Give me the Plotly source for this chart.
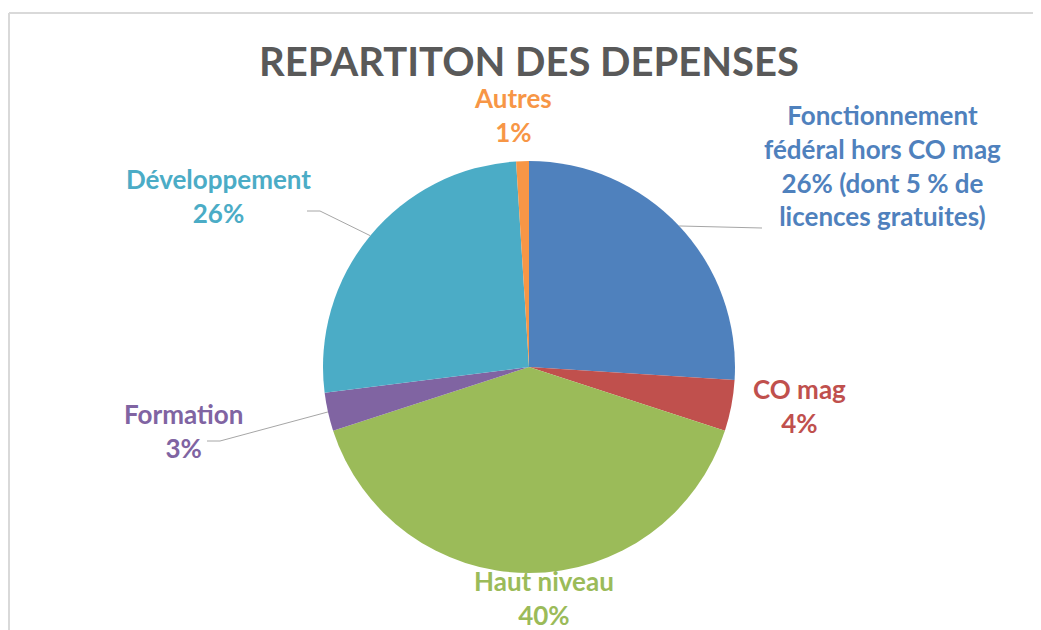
import math
import plotly.graph_objects as go

# ---- data ----
categories = ["Fonctionnement fédéral hors CO mag", "CO mag", "Haut niveau",
              "Formation", "Développement", "Autres"]
values = [26, 4, 40, 3, 26, 1]
label_texts = [
    "Fonctionnement<br>fédéral hors CO mag<br>26% (dont 5 % de<br>licences gratuites)",
    "CO mag<br>4%",
    "Haut niveau<br>40%",
    "Formation<br>3%",
    "Développement<br>26%",
    "Autres<br>1%",
]
colors = ["#4F81BD", "#C0504D", "#9BBB59", "#8064A2", "#4BACC6", "#F79646"]
title_text = "REPARTITON DES DEPENSES"

# ---- layout constants (page pixels) ----
OFF = 8                      # default page margin around the plot div
W, H = 1041 - OFF, 630 - OFF  # figure size
CX, CY, R = 529, 367, 206
label_pos = [(882, 165), (799, 406), (544, 598), (183, 431), (218, 196), (513, 115)]
leader = {
    0: [(762, 228)],
    3: [(220, 441), (207, 441)],
    4: [(320, 211), (307, 211)],
}

def px(x):
    return (x - OFF) / W

def py(y):
    return 1 - (y - OFF) / H

fig = go.Figure()
fig.add_trace(go.Pie(
    labels=categories,
    values=values,
    sort=False,
    direction="clockwise",
    rotation=0,
    marker=dict(colors=colors, line=dict(width=0)),
    textinfo="none",
    hoverinfo="label+percent",
    domain=dict(x=[px(CX - R), px(CX + R)], y=[py(CY + R), py(CY - R)]),
    showlegend=False,
))

annotations = []
for i, (t, c) in enumerate(zip(label_texts, colors)):
    x, y = label_pos[i]
    annotations.append(dict(
        x=px(x), y=py(y), xref="paper", yref="paper", text=t, showarrow=False,
        xanchor="center", yanchor="middle", align="center",
        font=dict(family="Lato", size=26, color=c, weight="bold"),
    ))

shapes = []
total = sum(values)
cum = 0
for i, v in enumerate(values):
    mid = (cum + v / 2) / total * 2 * math.pi
    cum += v
    if i in leader:
        sx = CX + R * math.sin(mid)
        sy = CY - R * math.cos(mid)
        pts = [(sx, sy)] + leader[i]
        for (x0, y0), (x1, y1) in zip(pts[:-1], pts[1:]):
            shapes.append(dict(type="line", xref="paper", yref="paper",
                               x0=px(x0), y0=py(y0), x1=px(x1), y1=py(y1),
                               line=dict(color="#A6A6A6", width=1)))

# chart frame (top and left edges visible)
shapes.append(dict(type="line", xref="paper", yref="paper", x0=px(9), y0=py(13),
                   x1=1.0, y1=py(13), line=dict(color="#D9D9D9", width=2)))
shapes.append(dict(type="line", xref="paper", yref="paper", x0=px(9), y0=py(13),
                   x1=px(9), y1=0.0, line=dict(color="#D9D9D9", width=2)))

fig.update_layout(
    width=W, height=H,
    margin=dict(l=0, r=0, t=0, b=0),
    paper_bgcolor="white",
    plot_bgcolor="white",
    title=dict(text=title_text, x=px(529), y=py(62), xanchor="center", yanchor="middle",
               font=dict(family="Lato", size=40, color="#595959", weight="bold")),
    annotations=annotations,
    shapes=shapes,
)

fig.write_html("out.html")
